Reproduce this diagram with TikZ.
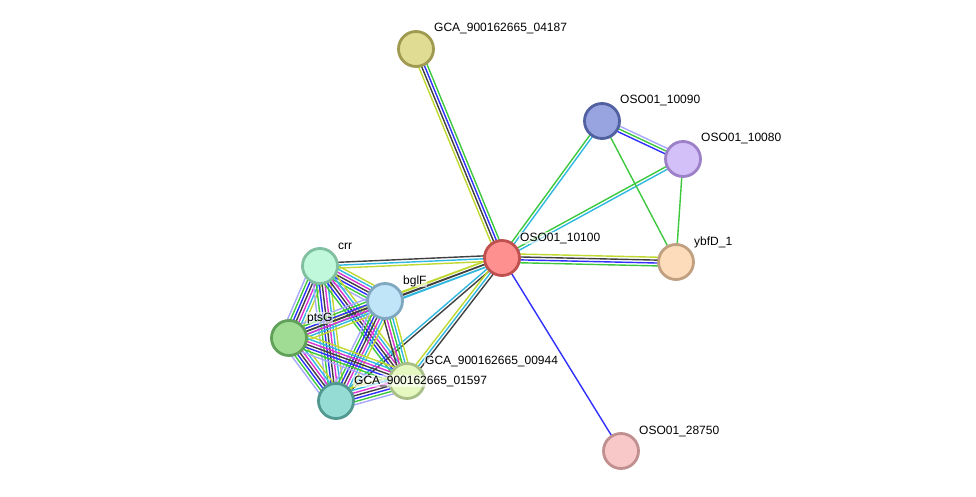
\documentclass[tikz,border=0pt]{standalone}
\usepackage{fontspec}
\setmainfont{Liberation Sans}
\usetikzlibrary{calc}
\pgfdeclarelayer{bgwhite}
\pgfdeclarelayer{edges}
\pgfsetlayers{bgwhite,edges,main}
\definecolor{eGreen}{RGB}{61,200,61}
\definecolor{eBlue}{RGB}{48,48,255}
\definecolor{eBlack}{RGB}{64,64,64}
\definecolor{eMag}{RGB}{220,50,210}
\definecolor{eCyan}{RGB}{48,184,224}
\definecolor{eYel}{RGB}{192,216,48}
\definecolor{eLav}{RGB}{168,168,255}
\tikzset{
  prot/.style={circle, minimum size=35pt, inner sep=0pt, line width=2.8pt},
  eline/.style={line width=1.4pt},
  lbl/.style={anchor=base west, inner sep=0.8pt, fill=white, fill opacity=0.6, text opacity=1, font=\fontsize{12}{14}\selectfont},
}
\newcommand\medge[4]{%
  \foreach \cc [count=\ii] in {#4}{%
    \pgfmathsetmacro\off{(\ii-(#3+1)/2)*2.9}%
    \draw[eline,\cc] ($(#1)!\off pt!90:(#2)$) -- ($(#2)!\off pt!-90:(#1)$);
  }}
\newcommand\plabel[3]{%
  \node[lbl] (#1) at ($(#2)+(17.2,-17)$) {#3};
}
\begin{document}
\begin{tikzpicture}[x=1pt,y=-1pt]
\begin{pgfonlayer}{bgwhite}
\path[use as bounding box, fill=white] (0,0) rectangle (976,497);
\end{pgfonlayer}
% nodes
\node[prot, fill={rgb,255:red,224;green,220;blue,148}, draw={rgb,255:red,160;green,154;blue,80}] (n04187) at (416,49) {};
\node[prot, fill={rgb,255:red,152;green,164;blue,224}, draw={rgb,255:red,80;green,96;blue,160}] (n10090) at (602,121) {};
\node[prot, fill={rgb,255:red,212;green,192;blue,248}, draw={rgb,255:red,156;green,128;blue,200}] (n10080) at (683,159) {};
\node[prot, fill={rgb,255:red,255;green,144;blue,144}, draw={rgb,255:red,192;green,80;blue,80}] (n10100) at (502,258) {};
\node[prot, fill={rgb,255:red,253;green,220;blue,188}, draw={rgb,255:red,192;green,160;blue,128}] (nybfD) at (676,262) {};
\node[prot, fill={rgb,255:red,192;green,248;blue,220}, draw={rgb,255:red,128;green,192;blue,160}] (ncrr) at (320,266) {};
\node[prot, fill={rgb,255:red,192;green,228;blue,248}, draw={rgb,255:red,128;green,168;blue,192}] (nbglF) at (385,301) {};
\node[prot, fill={rgb,255:red,160;green,220;blue,148}, draw={rgb,255:red,96;green,160;blue,88}] (nptsG) at (289,338) {};
\node[prot, fill={rgb,255:red,228;green,248;blue,192}, draw={rgb,255:red,168;green,192;blue,136}] (n00944) at (407,381) {};
\node[prot, fill={rgb,255:red,148;green,220;blue,212}, draw={rgb,255:red,80;green,152;blue,144}] (n01597) at (336,401) {};
\node[prot, fill={rgb,255:red,248;green,200;blue,200}, draw={rgb,255:red,192;green,144;blue,144}] (n28750) at (621,451) {};
% edges
\begin{pgfonlayer}{edges}
\medge{n04187}{n10100}{4}{eYel,eBlack,eBlue,eGreen}
\medge{n10100}{nybfD}{4}{eGreen,eBlue,eBlack,eYel}
\medge{n10100}{n10090}{2}{eCyan,eGreen}
\medge{n10100}{n10080}{2}{eCyan,eGreen}
\medge{n10090}{n10080}{3}{eBlue,eGreen,eLav}
\medge{n10090}{nybfD}{1}{eGreen}
\medge{n10080}{nybfD}{1}{eGreen}
\medge{n10100}{n28750}{1}{eBlue}
\medge{ncrr}{n10100}{3}{eYel,eCyan,eBlack}
\medge{nptsG}{n10100}{3}{eCyan,eBlack,eYel}
\medge{nbglF}{n10100}{3}{eCyan,eBlack,eYel}
\medge{n01597}{n10100}{2}{eBlack,eCyan}
\medge{n00944}{n10100}{3}{eBlack,eCyan,eYel}
\medge{ncrr}{nbglF}{7}{eLav,eGreen,eBlue,eBlack,eMag,eCyan,eYel}
\medge{ncrr}{nptsG}{7}{eLav,eGreen,eBlue,eBlack,eMag,eCyan,eYel}
\medge{ncrr}{n01597}{7}{eLav,eGreen,eBlue,eBlack,eMag,eCyan,eYel}
\medge{ncrr}{n00944}{6}{eGreen,eBlue,eBlack,eMag,eCyan,eYel}
\medge{nbglF}{nptsG}{7}{eLav,eGreen,eBlue,eBlack,eMag,eCyan,eYel}
\medge{nbglF}{n01597}{7}{eLav,eGreen,eBlue,eBlack,eMag,eCyan,eYel}
\medge{nbglF}{n00944}{5}{eBlack,eMag,eGreen,eCyan,eYel}
\medge{nptsG}{n01597}{7}{eLav,eGreen,eBlue,eBlack,eMag,eCyan,eYel}
\medge{nptsG}{n00944}{7}{eLav,eGreen,eBlue,eBlack,eMag,eCyan,eYel}
\medge{n01597}{n00944}{7}{eLav,eGreen,eBlue,eBlack,eMag,eCyan,eYel}
\end{pgfonlayer}
% labels
\plabel{l04187}{n04187}{GCA\_900162665\_04187}
\plabel{l10090}{n10090}{OSO01\_10090}
\plabel{l10080}{n10080}{OSO01\_10080}
\plabel{l10100}{n10100}{OSO01\_10100}
\plabel{lybfD}{nybfD}{ybfD\_1}
\plabel{lcrr}{ncrr}{crr}
\plabel{lbglF}{nbglF}{bglF}
\plabel{lptsG}{nptsG}{ptsG}
\plabel{l00944}{n00944}{GCA\_900162665\_00944}
\plabel{l01597}{n01597}{GCA\_900162665\_01597}
\plabel{l28750}{n28750}{OSO01\_28750}
\end{tikzpicture}
\end{document}
